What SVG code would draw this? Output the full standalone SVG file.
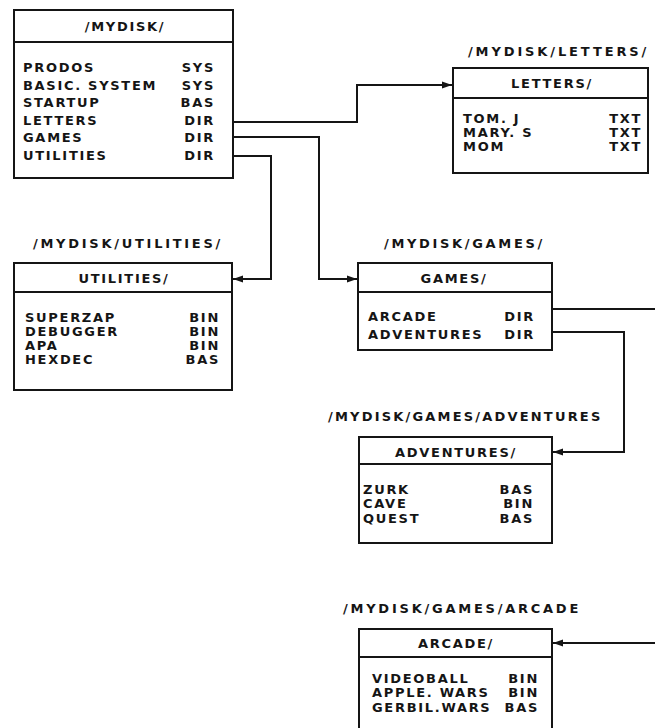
<svg xmlns="http://www.w3.org/2000/svg" width="655" height="728" viewBox="0 0 655 728">
<style>
.box{fill:#fff;stroke:#151515;stroke-width:2}
.div{stroke:#151515;stroke-width:2}
text{font-family:"DejaVu Sans","Liberation Sans",sans-serif;font-weight:bold;font-size:13px;fill:#151515;letter-spacing:1.7px}
.r{text-anchor:end}
.c{text-anchor:middle}
.conn{fill:none;stroke:#151515;stroke-width:2}
</style>
<defs>
<marker id="ah" markerUnits="userSpaceOnUse" markerWidth="11" markerHeight="8" refX="10" refY="4" orient="auto">
<path d="M0,0.5 L10,4 L0,7.5 z" fill="#151515"/>
</marker>
</defs>
<rect width="655" height="728" fill="#fff"/>

<g id="connectors">
<path class="conn" d="M233,122 H357 V85 H452" marker-end="url(#ah)"/>
<path class="conn" d="M233,137 H319 V279 H357" marker-end="url(#ah)"/>
<path class="conn" d="M233,156 H271 V279 H233" marker-end="url(#ah)"/>
<path class="conn" d="M552,332 H624 V452 H553" marker-end="url(#ah)"/>
<path class="conn" d="M552,309 H664 V643 H553" marker-end="url(#ah)"/>
</g>

<g id="mydisk">
<rect class="box" x="14" y="10" width="219" height="168"/>
<line class="div" x1="14" y1="42" x2="233" y2="42"/>
<text class="c" x="125" y="31">/MYDISK/</text>
<text x="23" y="72">PRODOS</text><text class="r" x="215" y="72">SYS</text>
<text x="23" y="89.5">BASIC. SYSTEM</text><text class="r" x="215" y="89.5">SYS</text>
<text x="23" y="107">STARTUP</text><text class="r" x="215" y="107">BAS</text>
<text x="23" y="124.5">LETTERS</text><text class="r" x="215" y="124.5">DIR</text>
<text x="23" y="142">GAMES</text><text class="r" x="215" y="142">DIR</text>
<text x="23" y="159.5">UTILITIES</text><text class="r" x="215" y="159.5">DIR</text>
</g>

<g id="letters">
<text x="468" y="55.5" textLength="180" lengthAdjust="spacing">/MYDISK/LETTERS/</text>
<rect class="box" x="453" y="68" width="195" height="105"/>
<line class="div" x1="453" y1="98" x2="648" y2="98"/>
<text class="c" x="552" y="88">LETTERS/</text>
<text x="463" y="122.5">TOM. J</text><text class="r" x="642" y="122.5">TXT</text>
<text x="463" y="136.5">MARY. S</text><text class="r" x="642" y="136.5">TXT</text>
<text x="463" y="150.5">MOM</text><text class="r" x="642" y="150.5">TXT</text>
</g>

<g id="utilities">
<text x="33" y="247.5" textLength="189" lengthAdjust="spacing">/MYDISK/UTILITIES/</text>
<rect class="box" x="14" y="263" width="218" height="127"/>
<line class="div" x1="14" y1="292" x2="232" y2="292"/>
<text class="c" x="124" y="283">UTILITIES/</text>
<text x="25" y="322">SUPERZAP</text><text class="r" x="220" y="322">BIN</text>
<text x="25" y="336">DEBUGGER</text><text class="r" x="220" y="336">BIN</text>
<text x="25" y="350">APA</text><text class="r" x="220" y="350">BIN</text>
<text x="25" y="364">HEXDEC</text><text class="r" x="220" y="364">BAS</text>
</g>

<g id="games">
<text x="384" y="247.5" textLength="160" lengthAdjust="spacing">/MYDISK/GAMES/</text>
<rect class="box" x="358" y="263" width="194" height="87"/>
<line class="div" x1="358" y1="292" x2="552" y2="292"/>
<text class="c" x="454" y="283">GAMES/</text>
<text x="368" y="321">ARCADE</text><text class="r" x="535" y="321">DIR</text>
<text x="368" y="339">ADVENTURES</text><text class="r" x="535" y="339">DIR</text>
</g>

<g id="adventures">
<text x="328" y="420.5" textLength="274" lengthAdjust="spacing">/MYDISK/GAMES/ADVENTURES</text>
<rect class="box" x="359" y="437" width="193" height="106"/>
<line class="div" x1="359" y1="464" x2="552" y2="464"/>
<text class="c" x="456" y="457">ADVENTURES/</text>
<text x="363" y="494">ZURK</text><text class="r" x="534" y="494">BAS</text>
<text x="363" y="508">CAVE</text><text class="r" x="534" y="508">BIN</text>
<text x="363" y="522.5">QUEST</text><text class="r" x="534" y="522.5">BAS</text>
</g>

<g id="arcade">
<text x="343" y="612.5" textLength="237" lengthAdjust="spacing">/MYDISK/GAMES/ARCADE</text>
<rect class="box" x="359" y="629" width="193" height="110"/>
<line class="div" x1="359" y1="657" x2="552" y2="657"/>
<text class="c" x="456" y="648">ARCADE/</text>
<text x="372" y="683">VIDEOBALL</text><text class="r" x="539" y="683">BIN</text>
<text x="372" y="697">APPLE. WARS</text><text class="r" x="539" y="697">BIN</text>
<text x="372" y="711.5">GERBIL.WARS</text><text class="r" x="539" y="711.5">BAS</text>
</g>
</svg>
